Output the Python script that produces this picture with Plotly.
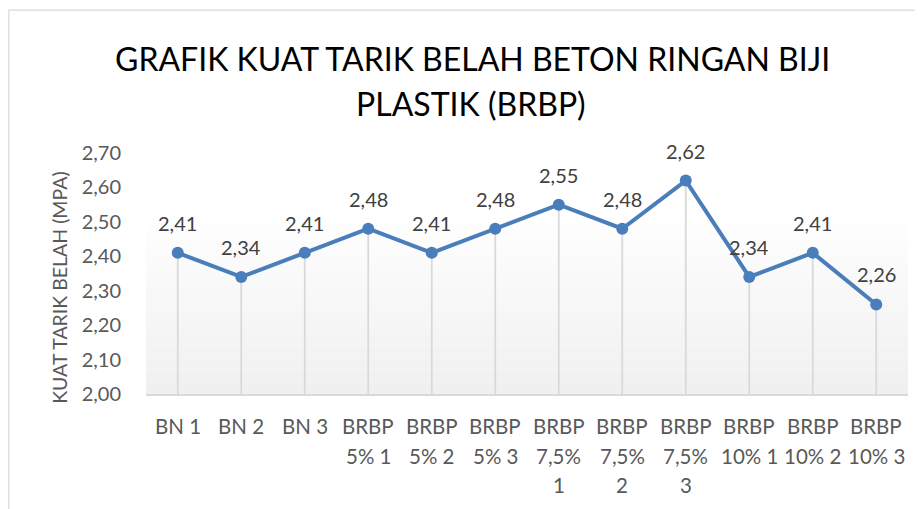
import plotly.graph_objects as go

# data
categories = ["BN 1", "BN 2", "BN 3", "BRBP 5% 1", "BRBP 5% 2", "BRBP 5% 3",
              "BRBP 7,5% 1", "BRBP 7,5% 2", "BRBP 7,5% 3",
              "BRBP 10% 1", "BRBP 10% 2", "BRBP 10% 3"]
tick_lines = [["BN 1"], ["BN 2"], ["BN 3"],
              ["BRBP", "5% 1"], ["BRBP", "5% 2"], ["BRBP", "5% 3"],
              ["BRBP", "7,5%", "1"], ["BRBP", "7,5%", "2"], ["BRBP", "7,5%", "3"],
              ["BRBP", "10% 1"], ["BRBP", "10% 2"], ["BRBP", "10% 3"]]
kuat_tarik = [2.41, 2.34, 2.41, 2.48, 2.41, 2.48, 2.55, 2.48, 2.62, 2.34, 2.41, 2.26]
y_ticks = [2.00, 2.10, 2.20, 2.30, 2.40, 2.50, 2.60, 2.70]
title_lines = ["GRAFIK KUAT TARIK BELAH BETON RINGAN BIJI", "PLASTIK (BRBP)"]
y_title = "KUAT TARIK BELAH (MPA)"

FONT = "Lato"
TXT = "#595959"
BASE = 2.00

fig = go.Figure()

# drop lines from each point down to the axis
drop_x, drop_y = [], []
for c, v in zip(categories, kuat_tarik):
    drop_x += [c, c, None]
    drop_y += [BASE, v, None]
fig.add_trace(go.Scatter(x=drop_x, y=drop_y, mode="lines",
                         line=dict(color="#D9D9D9", width=1.8),
                         hoverinfo="skip", showlegend=False))

# main series
fig.add_trace(go.Scatter(
    x=categories, y=kuat_tarik, mode="lines+markers",
    line=dict(color="#4A7EBB", width=4),
    marker=dict(color="#4A7EBB", size=12),
    showlegend=False,
))

# faint vertical gradient in the plot area
shapes = []
n = 16
top = 0.784
for i in range(n):
    g = int(240 + (255 - 240) * i / (n - 1))
    shapes.append(dict(type="rect", xref="paper", yref="paper",
                       x0=0, x1=1, y0=top * i / n, y1=top * (i + 1) / n,
                       fillcolor=f"rgb({g},{g},{g})", line=dict(width=0),
                       layer="below"))
# chart outer border
shapes.append(dict(type="rect", xref="paper", yref="paper",
                   x0=-0.18, x1=1.3, y0=1.593, y1=-1.0,
                   line=dict(color="#D9D9D9", width=1.2), fillcolor="rgba(0,0,0,0)"))

annotations = []
# data labels
for c, v in zip(categories, kuat_tarik):
    annotations.append(dict(x=c, y=v, xref="x", yref="y", yshift=30,
                            text=f"{v:.2f}".replace(".", ","), showarrow=False,
                            font=dict(family=FONT, size=20, color="#404040")))
# category labels (Excel style wrapping)
for c, lines in zip(categories, tick_lines):
    for j, t in enumerate(lines):
        annotations.append(dict(x=c, xref="x", y=0, yref="paper",
                                yanchor="middle", yshift=-32 - 29.5 * j,
                                text=t, showarrow=False,
                                font=dict(family=FONT, size=20.5, color=TXT)))
# chart title, two lines
annotations.append(dict(x=0.429, y=1.394, xref="paper", yref="paper",
                        text=title_lines[0], showarrow=False, yanchor="middle",
                        font=dict(family=FONT, size=32, color="black")))
annotations.append(dict(x=0.426, y=1.205, xref="paper", yref="paper",
                        text=title_lines[1], showarrow=False, yanchor="middle",
                        font=dict(family=FONT, size=32, color="black")))
# y axis title
annotations.append(dict(x=-0.113, y=0.44, xref="paper", yref="paper",
                        text=y_title, textangle=-90, showarrow=False,
                        xanchor="center", yanchor="middle",
                        font=dict(family=FONT, size=19.5, color=TXT)))

fig.update_layout(
    width=915, height=501,
    margin=dict(l=138, r=15, t=145, b=115),
    paper_bgcolor="white", plot_bgcolor="rgba(0,0,0,0)",
    separators=",.",
    shapes=shapes,
    annotations=annotations,
)
fig.update_xaxes(type="category", showticklabels=False, showgrid=False,
                 showline=True, linecolor="#D9D9D9", linewidth=2,
                 ticks="", zeroline=False, range=[-0.5, 11.5])
fig.update_yaxes(range=[2.0, 2.7], tickvals=y_ticks, tickformat=".2f",
                 showgrid=False, zeroline=False, showline=False,
                 ticklabelstandoff=24,
                 tickfont=dict(family=FONT, size=20, color=TXT))

fig.write_html("out.html")
